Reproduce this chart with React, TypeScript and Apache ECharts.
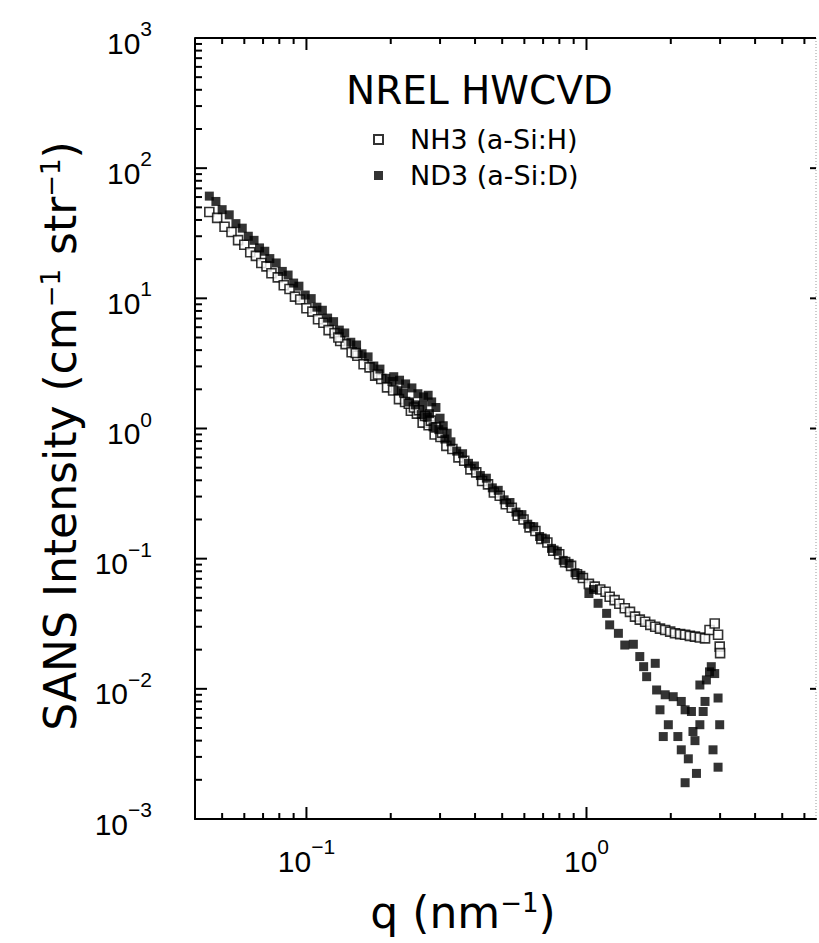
import React, { useEffect, useRef } from 'react';
import * as echarts from 'echarts';

// ---- data: [q (nm^-1), intensity (cm^-1 str^-1)] ----
const nh3Data: number[][] = [
  [0.045, 46], [0.048, 41.5], [0.051, 35.5], [0.054, 32.3], [0.057, 28], [0.06, 25.8], [0.063, 22.6],
  [0.066, 21.2], [0.069, 18.7], [0.072, 17.6], [0.075, 15.6], [0.079, 14.5], [0.083, 12.6], [0.087, 11.8],
  [0.091, 10.3], [0.095, 9.8], [0.1, 8.4], [0.105, 7.9], [0.11, 6.9], [0.115, 6.5], [0.12, 5.7],
  [0.126, 5.4], [0.132, 4.7], [0.138, 4.45], [0.145, 3.85], [0.152, 3.62], [0.16, 3.12], [0.168, 2.95],
  [0.176, 2.55], [0.185, 2.4], [0.194, 2.07], [0.204, 1.96], [0.214, 1.68], [0.225, 1.6], [0.236, 1.37],
  [0.248, 1.3], [0.26, 1.11], [0.273, 1.06], [0.287, 0.9], [0.301, 0.86], [0.316, 0.735], [0.332, 0.695],
  [0.349, 0.6], [0.366, 0.565], [0.385, 0.485], [0.404, 0.46], [0.424, 0.395], [0.445, 0.372],
  [0.467, 0.322], [0.49, 0.304], [0.515, 0.262], [0.541, 0.246], [0.568, 0.214], [0.596, 0.2],
  [0.626, 0.174], [0.657, 0.163], [0.69, 0.142], [0.725, 0.133], [0.761, 0.115], [0.799, 0.108],
  [0.839, 0.094], [0.881, 0.088], [0.925, 0.076], [0.971, 0.071],
  [0.232, 1.55], [0.242, 1.45], [0.252, 1.38], [0.265, 1.25], [0.278, 1.15], [0.29, 1.02], [0.305, 0.93],
  [0.13, 5.0], [0.15, 3.8], [0.18, 2.6],
  [1.02, 0.064], [1.07, 0.061], [1.12, 0.058], [1.17, 0.0557], [1.21, 0.051], [1.26, 0.048], [1.31, 0.045],
  [1.37, 0.0416], [1.43, 0.039], [1.49, 0.0359], [1.55, 0.034], [1.62, 0.0328], [1.69, 0.031],
  [1.76, 0.03], [1.83, 0.029], [1.91, 0.0283], [1.99, 0.0275], [2.07, 0.0267], [2.16, 0.0263],
  [2.25, 0.026], [2.34, 0.0255], [2.44, 0.0252], [2.54, 0.0248], [2.65, 0.0244], [2.75, 0.0283],
  [2.87, 0.0318], [2.95, 0.026], [2.99, 0.0211], [3.0, 0.0188],
];

const nd3Data: number[][] = [
  [0.045, 61], [0.0475, 55.5], [0.05, 48], [0.053, 43.8], [0.056, 37.5], [0.059, 34.6], [0.062, 30],
  [0.065, 27.9], [0.068, 24.4], [0.071, 23], [0.074, 20.2], [0.078, 18.7], [0.082, 16.1], [0.086, 15.1],
  [0.09, 13.1], [0.094, 12.4], [0.099, 10.6], [0.104, 9.95], [0.109, 8.55], [0.114, 8.1], [0.119, 7.05],
  [0.125, 6.62], [0.131, 5.7], [0.137, 5.42], [0.144, 4.6], [0.151, 4.38], [0.158, 3.75], [0.166, 3.55],
  [0.174, 3.02], [0.183, 2.86], [0.192, 2.43], [0.202, 2.3], [0.212, 1.95], [0.222, 1.87], [0.233, 1.6],
  [0.245, 1.52], [0.257, 1.28], [0.27, 1.22], [0.283, 1.03], [0.297, 0.98], [0.312, 0.83], [0.328, 0.79],
  [0.344, 0.67], [0.361, 0.64], [0.379, 0.54], [0.398, 0.515], [0.418, 0.435], [0.439, 0.415],
  [0.461, 0.35], [0.484, 0.335], [0.508, 0.283], [0.533, 0.27], [0.56, 0.228], [0.588, 0.218],
  [0.617, 0.184], [0.648, 0.176], [0.68, 0.148], [0.714, 0.142], [0.75, 0.12], [0.787, 0.114],
  [0.826, 0.097], [0.867, 0.092], [0.91, 0.078], [0.955, 0.0745],
  [0.205, 2.5], [0.215, 2.35], [0.226, 2.2], [0.238, 2.05], [0.25, 1.85], [0.262, 1.75], [0.272, 1.8],
  [0.28, 1.6], [0.29, 1.45], [0.3, 1.2], [0.308, 1.05], [0.318, 0.92], [0.26, 1.5], [0.275, 1.3],
  [1.02, 0.054], [1.06, 0.058], [1.1, 0.0454], [1.18, 0.038], [1.21, 0.031], [1.3, 0.0267], [1.37, 0.0217],
  [1.47, 0.022], [1.55, 0.0177], [1.6, 0.0148], [1.64, 0.0124], [1.76, 0.0157], [1.78, 0.0098],
  [1.91, 0.009], [2.04, 0.0087], [2.18, 0.008], [2.25, 0.0069], [2.37, 0.0067], [1.83, 0.0069],
  [1.96, 0.0053], [1.88, 0.0043], [2.12, 0.0043], [2.4, 0.0047], [2.44, 0.004], [2.18, 0.0034],
  [2.31, 0.0029], [2.25, 0.0019], [2.47, 0.00224], [2.54, 0.0053], [2.61, 0.0067], [2.65, 0.008],
  [2.54, 0.0107], [2.75, 0.0135], [2.79, 0.0148], [2.83, 0.0034], [2.95, 0.0025], [2.95, 0.0085],
  [2.99, 0.0053], [2.68, 0.0117], [2.87, 0.0131],
];

const seriesNames = ['NH3 (a-Si:H)', 'ND3 (a-Si:D)'];
const legendTitle = 'NREL HWCVD';

// ---- axes ----
const xRange = [0.04, 6.6];
const yRange = [0.001, 1000];
const xMajorTicks = [0.1, 1];
const xMinorTicks = [0.05, 0.06, 0.07, 0.08, 0.09, 0.2, 0.3, 0.4, 0.5, 0.6, 0.7, 0.8, 0.9, 2, 3, 4, 5, 6];
const yMajorTicks = [0.001, 0.01, 0.1, 1, 10, 100, 1000];
const yMinorTicks = [
  0.002, 0.003, 0.004, 0.005, 0.006, 0.007, 0.008, 0.009,
  0.02, 0.03, 0.04, 0.05, 0.06, 0.07, 0.08, 0.09,
  0.2, 0.3, 0.4, 0.5, 0.6, 0.7, 0.8, 0.9,
  2, 3, 4, 5, 6, 7, 8, 9,
  20, 30, 40, 50, 60, 70, 80, 90,
  200, 300, 400, 500, 600, 700, 800, 900,
];

const LABEL_FONT = 'Liberation Sans';
const TITLE_FONT = 'DejaVu Sans';

function powLabel(v: number): string {
  const e = Math.log10(v);
  const r = Math.round(e);
  if (Math.abs(e - r) > 1e-6) return '';
  const s = r < 0 ? '\u2212' + Math.abs(r) : String(r);
  return `{b|10}{s|${s}}`;
}

const labelRich = {
  b: { fontFamily: LABEL_FONT, fontSize: 30, color: '#000', lineHeight: 40, verticalAlign: 'bottom' },
  s: { fontFamily: LABEL_FONT, fontSize: 21, color: '#000', lineHeight: 21, verticalAlign: 'top' },
};

const titleRich = {
  t: { fontFamily: TITLE_FONT, fontSize: 44, lineHeight: 44, verticalAlign: 'bottom', fill: '#000' },
  s: { fontFamily: TITLE_FONT, fontSize: 26, lineHeight: 26, verticalAlign: 'top', fill: '#000' },
};

export default function App() {
  const ref = useRef<HTMLDivElement>(null);

  useEffect(() => {
    if (!ref.current) return;
    const chart = echarts.init(ref.current, null, { renderer: 'svg' });

    const option: any = {
      animation: false,
      backgroundColor: '#fff',
      grid: { left: 195, right: 1, top: 38, bottom: 124 },
      title: {
        text: legendTitle,
        left: 346,
        top: 70,
        padding: 0,
        textStyle: { fontFamily: TITLE_FONT, fontSize: 39, fontWeight: 'normal', color: '#000', lineHeight: 40 },
      },
      legend: {
        data: seriesNames,
        orient: 'vertical',
        left: 368,
        top: 121,
        itemWidth: 9,
        itemHeight: 9,
        itemGap: 9,
        textStyle: {
          fontFamily: TITLE_FONT,
          fontSize: 27,
          color: '#000',
          lineHeight: 26,
          padding: [0, 0, 0, 22],
        },
      },
      xAxis: {
        type: 'log',
        logBase: 10,
        min: xRange[0],
        max: xRange[1],
        axisLine: { show: true, lineStyle: { color: '#000', width: 2 } },
        axisTick: { show: false },
        splitLine: { show: false },
        axisLabel: { formatter: powLabel, rich: labelRich, margin: 17, hideOverlap: false },
      },
      yAxis: {
        type: 'log',
        logBase: 10,
        min: yRange[0],
        max: yRange[1],
        axisLine: { show: true, lineStyle: { color: '#000', width: 2 } },
        axisTick: { show: false },
        splitLine: { show: false },
        axisLabel: { formatter: powLabel, rich: labelRich, margin: 43, hideOverlap: false },
      },
      series: [
        {
          type: 'scatter',
          name: seriesNames[0],
          data: nh3Data,
          symbol: 'rect',
          symbolSize: 9,
          itemStyle: { color: '#fff', borderColor: '#000', borderWidth: 1.6 },
          z: 2,
        },
        {
          type: 'scatter',
          name: seriesNames[1],
          data: nd3Data,
          symbol: 'rect',
          symbolSize: 9,
          itemStyle: { color: '#000', borderColor: '#000', borderWidth: 0 },
          z: 3,
        },
      ],
    };

    chart.setOption(option);

    // frame and tick marks, positioned through the axes' own scales (convertToPixel)
    const toPx = (x: number, y: number): number[] =>
      chart.convertToPixel({ gridIndex: 0 }, [x, y]) as number[];
    const seg = (x1: number, y1: number, x2: number, y2: number, stroke = '#000', w = 2, dash?: number[]) => ({
      type: 'line',
      shape: { x1, y1, x2, y2 },
      style: dash ? { stroke, lineWidth: w, lineDash: dash } : { stroke, lineWidth: w },
    });
    const els: any[] = [];
    const tl = toPx(xRange[0], yRange[1]);
    const tr = toPx(xRange[1], yRange[1]);
    const br = toPx(xRange[1], yRange[0]);
    els.push(seg(tl[0], tl[1], tr[0], tr[1], '#000', 2));
    els.push(seg(tr[0], tr[1], br[0], br[1], '#999', 1, [1, 2]));

    const xTick = (v: number, len: number) => {
      const b = toPx(v, yRange[0]);
      const t = toPx(v, yRange[1]);
      els.push(seg(b[0], b[1], b[0], b[1] - len));
      els.push(seg(t[0], t[1], t[0], t[1] + len));
    };
    xMajorTicks.forEach((v) => xTick(v, 12));
    xMinorTicks.forEach((v) => xTick(v, 6));
    yMajorTicks.forEach((v) => {
      const l = toPx(xRange[0], v);
      const r = toPx(xRange[1], v);
      els.push(seg(l[0], l[1], l[0] + 12, l[1]));
      els.push(seg(r[0], r[1], r[0] - 6, r[1]));
    });
    yMinorTicks.forEach((v) => {
      const l = toPx(xRange[0], v);
      els.push(seg(l[0], l[1], l[0] + 7, l[1]));
    });

    chart.setOption({
      graphic: [
        {
          type: 'text',
          x: 60,
          y: 436,
          rotation: Math.PI / 2,
          style: {
            text: '{t|SANS Intensity (cm}{s|\u22121}{t| str}{s|\u22121}{t|)}',
            align: 'center',
            verticalAlign: 'middle',
            fill: '#000',
            rich: titleRich,
          },
        },
        {
          type: 'text',
          x: 463,
          y: 912,
          style: {
            text: '{t|q (nm}{s|\u22121}{t|)}',
            align: 'center',
            verticalAlign: 'middle',
            fill: '#000',
            rich: titleRich,
          },
        },
        ...els,
      ],
    });

    return () => chart.dispose();
  }, []);

  return (
    <div
      ref={ref}
      style={{ position: 'absolute', left: 0, top: 0, width: 819, height: 943, background: '#fff' }}
    />
  );
}
